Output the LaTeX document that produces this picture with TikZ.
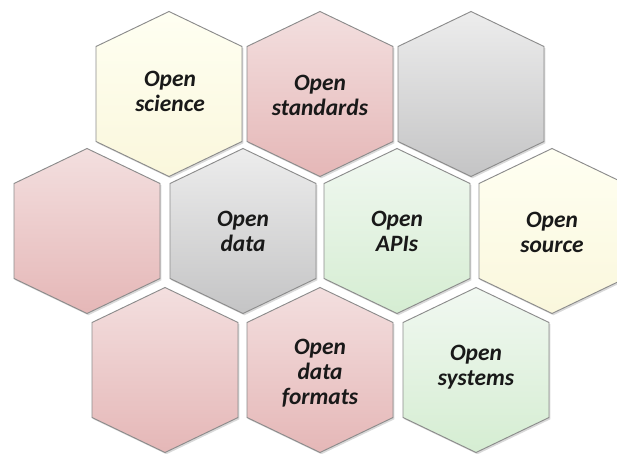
\documentclass[tikz,border=0pt]{standalone}
\usepackage{fontspec}
\setsansfont{Carlito}
\usetikzlibrary{shadows}

\definecolor{hexline}{HTML}{8C8C8C}
\definecolor{ivorytop}{HTML}{FFFFF2}
\definecolor{ivorybot}{HTML}{FAF7DC}
\definecolor{rosetop}{HTML}{F3DFDF}
\definecolor{rosebot}{HTML}{E5B7B7}
\definecolor{silvertop}{HTML}{EDEDED}
\definecolor{silverbot}{HTML}{C4C4C5}
\definecolor{minttop}{HTML}{F1F8F1}
\definecolor{mintbot}{HTML}{D5EDD2}

\begin{document}
\begin{tikzpicture}[x=0.03cm, y=-0.03cm,
                    hex/.style={draw=hexline, line width=0.8pt,
                      drop shadow={opacity=0.3, shadow xshift=1.2pt, shadow yshift=-1.5pt}},
                    ivory/.style={hex, top color=ivorytop, bottom color=ivorybot},
                    rose/.style={hex, top color=rosetop, bottom color=rosebot},
                    silver/.style={hex, top color=silvertop, bottom color=silverbot},
                    mint/.style={hex, top color=minttop, bottom color=mintbot},
                    every node/.style={font=\sffamily\bfseries\itshape\fontsize{20}{21.5}\selectfont,
                      align=center, text=black!90}]
    %\draw[help lines] (0,0) grid (617,454);
    \useasboundingbox (0,0) rectangle (617,454);

    % Define cells
    \foreach \cx/\cy/\tone in {169/94/ivory, 320/94/rose, 471/94/silver,
                               87/231/rose, 243/231/silver, 397/231/mint, 552/231/ivory,
                               165/370/rose, 320/370/rose, 476/370/mint}
      \path[\tone] (\cx,\cy) ++(0,-82.5) -- ++(73,35) -- ++(0,95)
                   -- ++(-73,35) -- ++(-73,-35) -- ++(0,-95) -- cycle;

    % Define labels
    \node (science)   at (170,91)  {Open\\science};
    \node (standards) at (320,95)  {Open\\standards};
    \node (data)      at (243,231) {Open\\data};
    \node (apis)      at (397,231) {Open\\APIs};
    \node (source)    at (552,232) {Open\\source};
    \node (formats)   at (320,373) {Open\\data\\formats};
    \node (systems)   at (476,367) {Open\\systems};

\end{tikzpicture}
\end{document}
